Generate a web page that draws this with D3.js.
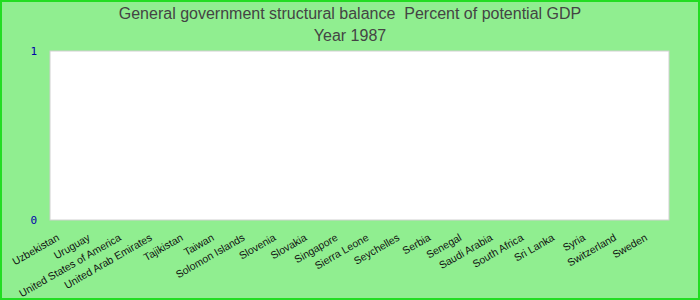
<!DOCTYPE html>
<html>
<head>
<meta charset="utf-8">
<script src="https://cdn.jsdelivr.net/npm/d3@7"></script>
<style>
  body { margin: 0; }
  svg { display: block; font-family: "Liberation Sans", Arial, sans-serif; }
  .title { white-space: pre; }
</style>
</head>
<body>
<svg id="chart" width="700" height="300"></svg>
<script>
// chart data
var countries = ["Uzbekistan", "Uruguay", "United States of America", "United Arab Emirates",
  "Tajikistan", "Taiwan", "Solomon Islands", "Slovenia", "Slovakia", "Singapore",
  "Sierra Leone", "Seychelles", "Serbia", "Senegal", "Saudi Arabia", "South Africa",
  "Sri Lanka", "Syria", "Switzerland", "Sweden"];
// no values reported for 1987
var values = [null, null, null, null, null, null, null, null, null, null,
  null, null, null, null, null, null, null, null, null, null];
var yTicks = [0, 1];
var titleLines = ["General government structural balance  Percent of potential GDP", "Year 1987"];

var width = 700, height = 300;
var margin = {top: 51, right: 31, bottom: 80, left: 50};

var svg = d3.select("#chart");

svg.append("rect")
  .attr("x", 1).attr("y", 1)
  .attr("width", width - 2).attr("height", height - 2)
  .attr("fill", "#90ee90")
  .attr("stroke", "#22dd22")
  .attr("stroke-width", 2);

var x = d3.scaleBand()
  .domain(countries)
  .range([margin.left, width - margin.right]);

var y = d3.scaleLinear()
  .domain([0, 1])
  .range([height - margin.bottom, margin.top]);

svg.append("rect")
  .attr("x", margin.left).attr("y", margin.top)
  .attr("width", width - margin.left - margin.right)
  .attr("height", height - margin.top - margin.bottom)
  .attr("fill", "#fff")
  .attr("stroke", "#d0d0d0");

svg.selectAll("text.title")
  .data(titleLines)
  .enter().append("text")
  .attr("class", "title")
  .attr("x", width / 2)
  .attr("y", function(d, i) { return 19 + i * 22; })
  .attr("text-anchor", "middle")
  .attr("font-size", 16)
  .attr("fill", "#444")
  .text(function(d) { return d; });

// bars (none with data)
var barData = countries.map(function(c, i) { return {name: c, value: values[i]}; })
  .filter(function(d) { return d.value != null; });
svg.selectAll("rect.bar")
  .data(barData)
  .enter().append("rect")
  .attr("class", "bar")
  .attr("x", function(d) { return x(d.name) + 2; })
  .attr("width", x.bandwidth() - 4)
  .attr("y", function(d) { return Math.min(y(d.value), y(0)); })
  .attr("height", function(d) { return Math.abs(y(d.value) - y(0)); })
  .attr("fill", "#4472c4");

var yAxis = svg.append("g")
  .attr("transform", "translate(" + (margin.left - 10) + ",0)")
  .call(d3.axisLeft(y).tickValues(yTicks).tickSize(0).tickFormat(d3.format("d")));
yAxis.select(".domain").remove();
yAxis.selectAll("text")
  .attr("fill", "#0000aa")
  .attr("font-size", 11)
  .attr("font-family", "'DejaVu Sans Mono', monospace");

var xAxis = svg.append("g")
  .attr("transform", "translate(0," + (height - margin.bottom) + ")")
  .call(d3.axisBottom(x).tickSize(0));
xAxis.select(".domain").remove();
xAxis.selectAll("text")
  .attr("fill", "#111")
  .attr("font-size", 10.5)
  .attr("font-family", "'Liberation Sans', Arial, sans-serif")
  .attr("text-anchor", "end")
  .attr("dy", 0)
  .attr("transform", "translate(-7,17) rotate(-30)");
</script>
</body>
</html>
